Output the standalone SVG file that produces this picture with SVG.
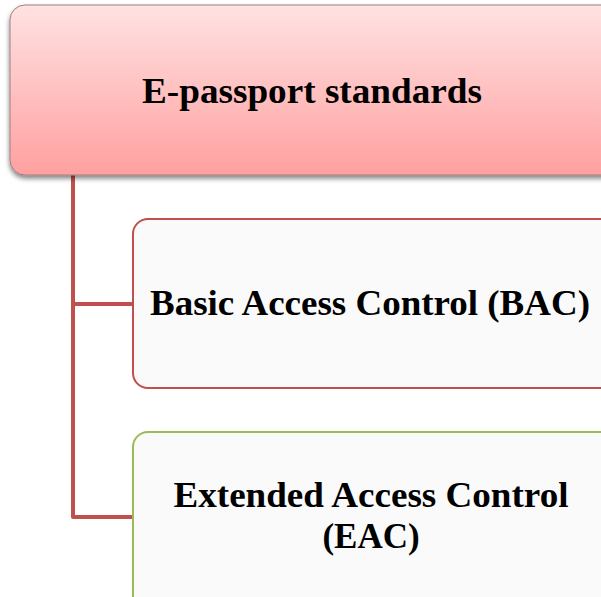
<svg xmlns="http://www.w3.org/2000/svg" width="601" height="597" viewBox="0 0 601 597">
<defs>
<linearGradient id="gTop" x1="0" y1="0" x2="0" y2="1">
<stop offset="0" stop-color="#ffe2e2"/>
<stop offset="1" stop-color="#ffa0a0"/>
</linearGradient>
<filter id="sh" x="-5%" y="-5%" width="110%" height="120%">
<feGaussianBlur in="SourceAlpha" stdDeviation="2.5"/>
<feOffset dx="0" dy="3" result="b"/>
<feComponentTransfer><feFuncA type="linear" slope="0.5"/></feComponentTransfer>
<feMerge><feMergeNode/><feMergeNode in="SourceGraphic"/></feMerge>
</filter>
</defs>
<style>
.t{font-family:"Liberation Serif","Times New Roman",serif;font-weight:bold;fill:#000;text-anchor:middle}
.conn{fill:none;stroke:#c0504d;stroke-width:4;stroke-linejoin:round}
.child{fill:#fafafa;stroke-width:2}
</style>
<rect width="601" height="597" fill="#ffffff"/>
<g id="connectors">
<path class="conn" d="M73 174 V517 H133 M73 304 H133"/>
</g>
<g id="root">
<rect x="10" y="5" width="620" height="170" rx="15" fill="url(#gTop)" stroke="#a08080" stroke-width="1" filter="url(#sh)"/>
<text class="t" x="312" y="103" font-size="36" textLength="340" lengthAdjust="spacingAndGlyphs">E-passport standards</text>
</g>
<g id="bac">
<rect class="child" x="133" y="219" width="500" height="169" rx="15" stroke="#c0504d"/>
<text class="t" x="370" y="315" font-size="35" textLength="440" lengthAdjust="spacingAndGlyphs">Basic Access Control (BAC)</text>
</g>
<g id="eac">
<rect class="child" x="133" y="432" width="500" height="200" rx="15" stroke="#9bbb59"/>
<text class="t" x="371" y="507" font-size="35" textLength="395" lengthAdjust="spacingAndGlyphs">Extended Access Control</text>
<text class="t" x="371" y="548" font-size="35">(EAC)</text>
</g>
</svg>
